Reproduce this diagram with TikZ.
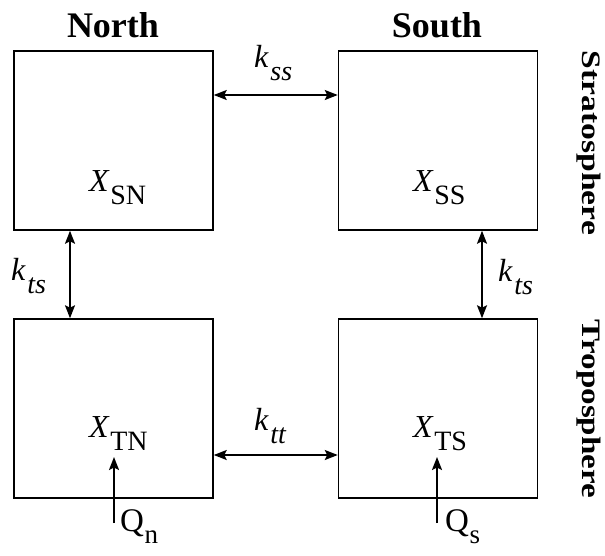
\documentclass[tikz,border=0pt]{standalone}
\usepackage{fontspec}
\setmainfont{Liberation Serif}
\usetikzlibrary{arrows.meta}
\newcommand{\Xlab}[1]{{\fontsize{32}{32}\selectfont\textit{X}}\kern0.5pt\raisebox{-13pt}{\fontsize{28}{28}\selectfont #1}}
\newcommand{\klab}[1]{{\fontsize{32}{32}\selectfont\textit{k}}\kern1.5pt\raisebox{-13pt}{\fontsize{28}{28}\selectfont\textit{#1}}}
\newcommand{\Qlab}[1]{{\fontsize{33}{33}\selectfont Q}\kern0.5pt\raisebox{-12pt}{\fontsize{27}{27}\selectfont #1}}
\begin{document}
\begin{tikzpicture}[x=1pt,y=-1pt,
  boxnode/.style={draw,line width=1.5pt,minimum width=199pt,minimum height=179pt,inner sep=0pt},
  flux/.style={line width=2pt,{Stealth[length=13pt,width=10pt,inset=2.5pt]}-{Stealth[length=13pt,width=10pt,inset=2.5pt]}},
  src/.style={line width=2pt,-{Stealth[length=13pt,width=10pt,inset=2.5pt]}},
  head/.style={font=\bfseries\fontsize{36}{36}\selectfont,inner sep=0pt},
  side/.style={inner sep=0pt,rotate=-90},
  lab/.style={inner sep=0pt,anchor=base west}]
\useasboundingbox (0,0) rectangle (605,555);
\node[boxnode] (SN) at (113.5,140.5) {};
\node[boxnode] (SS) at (438,140.5) {};
\node[boxnode] (TN) at (113.5,408.5) {};
\node[boxnode] (TS) at (438,408.5) {};
\node[head] (north) at (113,25) {North};
\node[head] (south) at (437,25) {South};
\node[side] (strat) at (589,143) {\scalebox{1.2}[0.95]{\bfseries\fontsize{28}{28}\selectfont Stratosphere}};
\node[side] (trop) at (589,409) {\scalebox{1.18}[0.95]{\bfseries\fontsize{28}{28}\selectfont Troposphere}};
\node[lab] (xsn) at (89,191) {\Xlab{SN}};
\node[lab] (xss) at (413,191) {\Xlab{SS}};
\node[lab] (xtn) at (89,437) {\Xlab{TN}};
\node[lab] (xts) at (413,437) {\Xlab{TS}};
\node[lab] (kss) at (254,67) {\klab{ss}};
\node[lab] (ktsl) at (11,280) {\klab{ts}};
\node[lab] (ktsr) at (498,281) {\klab{ts}};
\node[lab] (ktt) at (254,430) {\klab{tt}};
\node[lab] (qn) at (120,531) {\Qlab{n}};
\node[lab] (qs) at (445,531) {\Qlab{s}};
\draw[flux] ([yshift=45.5pt]SN.east) -- ([yshift=45.5pt]SS.west);
\draw[flux] ([yshift=-46.5pt]TN.east) -- ([yshift=-46.5pt]TS.west);
\draw[flux] ([xshift=-43.5pt]SN.south) -- ([xshift=-43.5pt]TN.north);
\draw[flux] ([xshift=44pt]SS.south) -- ([xshift=44pt]TS.north);
\coordinate (qnfoot) at (114,523);
\coordinate (qnhead) at (114,457);
\coordinate (qsfoot) at (437,523);
\coordinate (qshead) at (437,457);
\draw[src] (qnfoot) -- (qnhead);
\draw[src] (qsfoot) -- (qshead);
\end{tikzpicture}
\end{document}
